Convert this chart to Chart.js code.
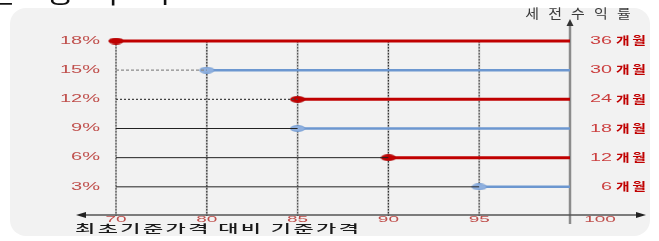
<!DOCTYPE html>
<html>
<head>
<meta charset="utf-8">
<script src="https://cdn.jsdelivr.net/npm/chart.js@4/dist/chart.umd.min.js"></script>
<style>
html,body{margin:0;padding:0;background:#fff;}
#c{display:block;}
</style>
</head>
<body>
<canvas id="c" width="659" height="241"></canvas>
<script>
// ---- data ----
const categories = ['70', '80', '85', '90', '95', '100'];   // 최초기준가격 대비 기준가격
const yieldRates = [18, 15, 12, 9, 6, 3];                    // 세전수익률 (%)
const barrierLevels = ['70', '80', '85', '85', '90', '95'];  // 상환 기준가격
const periodLabels = ['36개월', '30개월', '24개월', '18개월', '12개월', '6개월'];
const xAxisTitle = '최초기준가격 대비 기준가격';
const yAxisTitle = '세전수익률';
const headerText = ['손', '상', '익', '시'];

// ---- styles ----
const RED = '#c00000', BLUE = '#6c97d0';
const connectorStyles = [
  null,
  { color: '#8a8a8a', dash: [3, 2], width: 1.3 },
  { color: '#444444', dash: [2, 2], width: 1.3 },
  { color: '#222222', dash: [], width: 1 },
  { color: '#222222', dash: [], width: 1 },
  { color: '#222222', dash: [], width: 1 }
];

function ellipse(fill, stroke) {
  const c = document.createElement('canvas');
  c.width = 16; c.height = 7;
  const g = c.getContext('2d');
  g.beginPath(); g.ellipse(8, 3.5, 7.3, 3, 0, 0, Math.PI * 2);
  g.fillStyle = fill; g.fill();
  g.lineWidth = 0.8; g.strokeStyle = stroke; g.stroke();
  return c;
}
const redMark = ellipse('#c00000', '#b00000');
const blueMark = ellipse('#8fb0df', '#6c97d0');

const datasets = [];
yieldRates.forEach((r, i) => {
  const start = categories.indexOf(barrierLevels[i]);
  if (start > 0) {
    const st = connectorStyles[i];
    datasets.push({
      data: categories.map((c, j) => j <= start ? r : null),
      borderColor: st.color, borderWidth: st.width, borderDash: st.dash,
      pointRadius: 0, clip: false, spanGaps: false
    });
  }
});
yieldRates.forEach((r, i) => {
  const start = categories.indexOf(barrierLevels[i]);
  const red = i % 2 === 0;
  datasets.push({
    data: categories.map((c, j) => j >= start ? r : null),
    borderColor: red ? RED : BLUE,
    borderWidth: red ? 3 : 2.5,
    pointStyle: red ? redMark : blueMark,
    pointRadius: ctx => ctx.dataIndex === start ? 6 : 0,
    pointHoverRadius: 0,
    clip: false
  });
});

function measure(ctx, s, o) {
  ctx.save();
  ctx.font = `${o.weight || 'normal'} ${o.size}px ${o.family}`;
  ctx.letterSpacing = (o.ls || 0) + 'px';
  const w = (ctx.measureText(s).width - (o.ls || 0)) * (o.sx || 1);
  ctx.restore();
  return w;
}
function txt(ctx, s, x, y, o) {
  const w = measure(ctx, s, o);
  ctx.save();
  ctx.font = `${o.weight || 'normal'} ${o.size}px ${o.family}`;
  ctx.letterSpacing = (o.ls || 0) + 'px';
  ctx.fillStyle = o.color;
  ctx.textBaseline = o.baseline || 'middle';
  ctx.textAlign = 'left';
  const left = o.align === 'right' ? x - w : o.align === 'center' ? x - w / 2 : x;
  ctx.translate(left, y); ctx.scale(o.sx || 1, 1);
  ctx.fillText(s, 0, 0);
  ctx.restore();
  return w;
}
const LAT = '"Liberation Sans", Arial, sans-serif';
const KR = '"Noto Sans CJK KR", sans-serif';

const decor = {
  id: 'decor',
  beforeDraw(chart) {
    const ctx = chart.ctx;
    ctx.save();
    ctx.fillStyle = '#ffffff';
    ctx.fillRect(0, 0, chart.width, chart.height);
    ctx.beginPath();
    ctx.roundRect(10, 8, 640, 228, 16);
    ctx.fillStyle = '#f2f2f2';
    ctx.fill();
    ctx.restore();
    const hx = [2, 60, 104, 156];
    headerText.forEach((h, i) => txt(ctx, h, hx[i], 3, { size: 26, family: KR, color: '#111', align: 'center', baseline: 'alphabetic', sx: 1.2 }));
  },
  beforeDatasetsDraw(chart) {
    const ctx = chart.ctx, xs = chart.scales.x, ys = chart.scales.y;
    const top = ys.getPixelForValue(yieldRates[0]);
    const bottom = ys.getPixelForValue(0);
    ctx.save();
    categories.forEach((c, i) => {
      const x = xs.getPixelForValue(i);
      if (i === categories.length - 1) return;
      ctx.beginPath();
      ctx.setLineDash([]);
      ctx.lineWidth = 2;
      ctx.strokeStyle = 'rgba(150,150,150,0.55)';
      ctx.moveTo(x, top); ctx.lineTo(x, bottom);
      ctx.stroke();
      ctx.beginPath();
      ctx.setLineDash([1.5, 1.5]);
      ctx.lineWidth = 1.2;
      ctx.strokeStyle = i % 2 === 0 ? '#555' : '#333';
      ctx.moveTo(x, top); ctx.lineTo(x, bottom);
      ctx.stroke();
    });
    ctx.setLineDash([]);
    const xr = xs.getPixelForValue(categories.length - 1);
    ctx.beginPath();
    ctx.lineWidth = 2.5; ctx.strokeStyle = '#8c8c8c';
    ctx.moveTo(xr, 24); ctx.lineTo(xr, bottom + 8);
    ctx.stroke();
    ctx.beginPath();
    ctx.fillStyle = '#333';
    ctx.moveTo(xr, 19); ctx.lineTo(xr - 3.5, 26); ctx.lineTo(xr + 3.5, 26); ctx.closePath(); ctx.fill();
    const xl = xs.getPixelForValue(0);
    ctx.beginPath();
    ctx.lineWidth = 1.5; ctx.strokeStyle = '#555';
    ctx.moveTo(xl - 36, bottom - 1); ctx.lineTo(xr + 72, bottom - 1);
    ctx.stroke();
    ctx.fillStyle = '#222';
    ctx.beginPath();
    ctx.moveTo(xl - 40, bottom - 1); ctx.lineTo(xl - 30, bottom - 4); ctx.lineTo(xl - 30, bottom + 2); ctx.closePath(); ctx.fill();
    ctx.beginPath();
    ctx.moveTo(xr + 76, bottom - 1); ctx.lineTo(xr + 66, bottom - 4); ctx.lineTo(xr + 66, bottom + 2); ctx.closePath(); ctx.fill();
    ctx.restore();
  },
  afterDraw(chart) {
    const ctx = chart.ctx, xs = chart.scales.x, ys = chart.scales.y;
    const xl = xs.getPixelForValue(0);
    const xr = xs.getPixelForValue(categories.length - 1);
    const bottom = ys.getPixelForValue(0);
    yieldRates.forEach((r, i) => {
      const y = ys.getPixelForValue(r);
      txt(ctx, r + '%', xl - 16, y, { size: 10, family: LAT, color: '#c0504d', align: 'right', sx: 2.0, ls: 0 });
      const m = periodLabels[i].match(/^(\d+)(.*)$/);
      const rx = xr + 76;
      const o2 = { size: 11, family: KR, weight: 'bold', color: '#c00000', align: 'right', sx: 1.35, ls: 2 };
      const w2 = txt(ctx, m[2], rx, y, o2);
      txt(ctx, m[1], rx - w2 - 4, y, { size: 11, family: LAT, color: '#cc4040', align: 'right', sx: 1.8, ls: 0 });
    });
    categories.forEach((c, i) => {
      let x = xs.getPixelForValue(i);
      if (i === categories.length - 1) x += 30;
      txt(ctx, c, x, bottom + 3, { size: 9.5, family: LAT, color: '#c0504d', align: 'center', sx: 2.0, ls: 0 });
    });
    txt(ctx, xAxisTitle, xl - 41, bottom + 13, { size: 11, family: KR, weight: '500', color: '#1a1a1a', align: 'left', sx: 2.0, ls: 1.2 });
    txt(ctx, yAxisTitle, xr + 8, 13, { size: 13, family: KR, color: '#3a3a3a', align: 'center', sx: 1.15, ls: 8 });
  }
};

new Chart(document.getElementById('c'), {
  type: 'line',
  data: { labels: categories, datasets },
  options: {
    responsive: false,
    animation: false,
    devicePixelRatio: 1,
    layout: { padding: { left: 116, right: 89, top: 41, bottom: 25 } },
    plugins: { legend: { display: false }, tooltip: { enabled: false } },
    scales: {
      x: { type: 'category', display: false, offset: false },
      y: { type: 'linear', display: false, min: 0, max: 18 }
    },
    elements: { line: { tension: 0 } }
  },
  plugins: [decor]
});
</script>
</body>
</html>
